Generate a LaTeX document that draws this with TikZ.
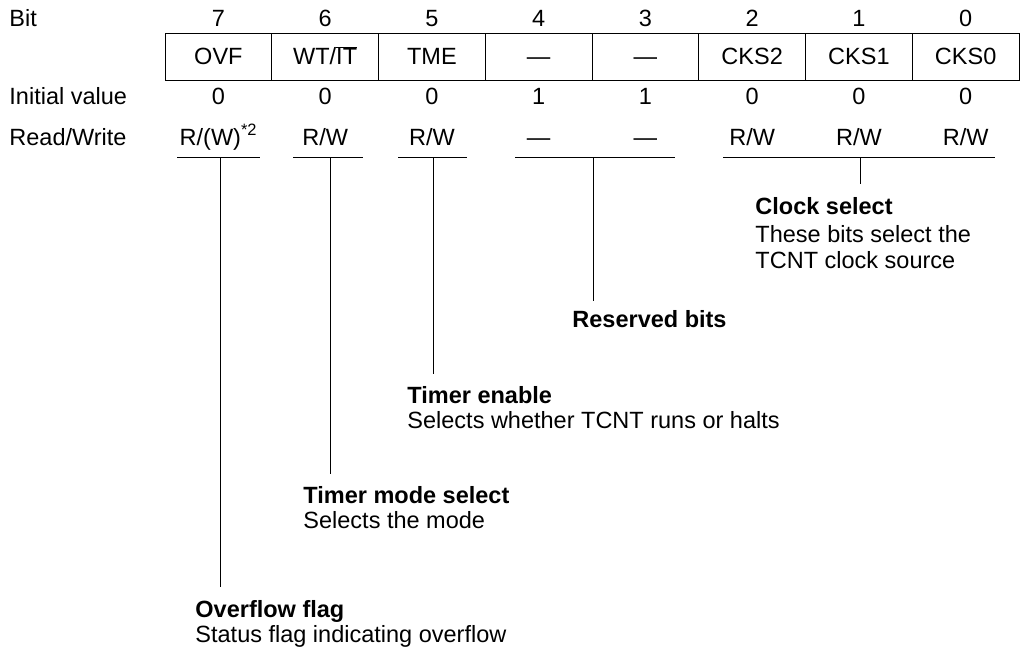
\documentclass[tikz,border=0pt]{standalone}
\usepackage{fontspec}
\setmainfont{Liberation Sans}
\begin{document}
\begin{tikzpicture}[x=1pt, y=-1pt, line width=0.9pt,
		every node/.style={font=\fontsize{23.5}{26}\selectfont, inner sep=0pt},
		cell/.style={draw, line width=0.9pt, minimum width=106.75pt, minimum height=47pt, text height=16pt, text depth=0pt},
		rowtxt/.style={anchor=base},
		lbl/.style={anchor=base west},
		title/.style={anchor=base west, font=\fontsize{23.5}{26}\selectfont\bfseries}]
	\useasboundingbox (0,0) rectangle (1023,649);
	% row labels
	\node[lbl] (bitlbl) at (9,26) {Bit};
	\node[lbl] (initlbl) at (9,104) {Initial value};
	\node[lbl] (rwlbl) at (9,145) {Read/Write};
	% register cells
	\foreach \b / \name / \init / \rw in {7/OVF/0/{R/(W)\textsuperscript{*2}}, 6/{WT/$\overline{\mbox{IT}}$}/0/{R/W}, 5/TME/0/{R/W}, 4/—/1/—, 3/—/1/—, 2/CKS2/0/{R/W}, 1/CKS1/0/{R/W}, 0/CKS0/0/{R/W}} {
		\node[cell] (f\b) at ({165+(7.5-\b)*106.75}, 56.5) {\name};
		\node[rowtxt] (n\b) at (f\b |- 0,26) {\b};
		\node[rowtxt] (i\b) at (f\b |- 0,104) {\init};
		\node[rowtxt] (rw\b) at (f\b |- 0,145) {\rw};
	}
	% underlines
	\foreach \n / \l / \r / \m in {7/177/260/220, 6/293/363/330, 5/398/467/433, 43/515/675/593, 20/723/995/860} {
		\draw (\l,157) -- (\r,157);
		\coordinate (u\n) at (\m,157);
	}
	% descriptions
	\node[title] (cks) at (755,214) {Clock select};
	\node[lbl] (cksa) at (755,242) {These bits select the};
	\node[lbl] (cksb) at (755,268) {TCNT clock source};
	\node[title] (rsv) at (572,327) {Reserved bits};
	\node[title] (tme) at (407,403) {Timer enable};
	\node[lbl] (tmea) at (407,428) {Selects whether TCNT runs or halts};
	\node[title] (mode) at (303,503) {Timer mode select};
	\node[lbl] (modea) at (303,528) {Selects the mode};
	\node[title] (ovf) at (195,617) {Overflow flag};
	\node[lbl] (ovfa) at (195,642) {Status flag indicating overflow};
	% leaders
	\draw (u20) -- ([yshift=13pt]u20 |- cks.north);
	\draw (u43) -- ([yshift=9pt]u43 |- rsv.north);
	\draw (u5) -- ([yshift=12pt]u5 |- tme.north);
	\draw (u6) -- ([yshift=12pt]u6 |- mode.north);
	\draw (u7) -- ([yshift=13pt]u7 |- ovf.north);
\end{tikzpicture}
\end{document}
